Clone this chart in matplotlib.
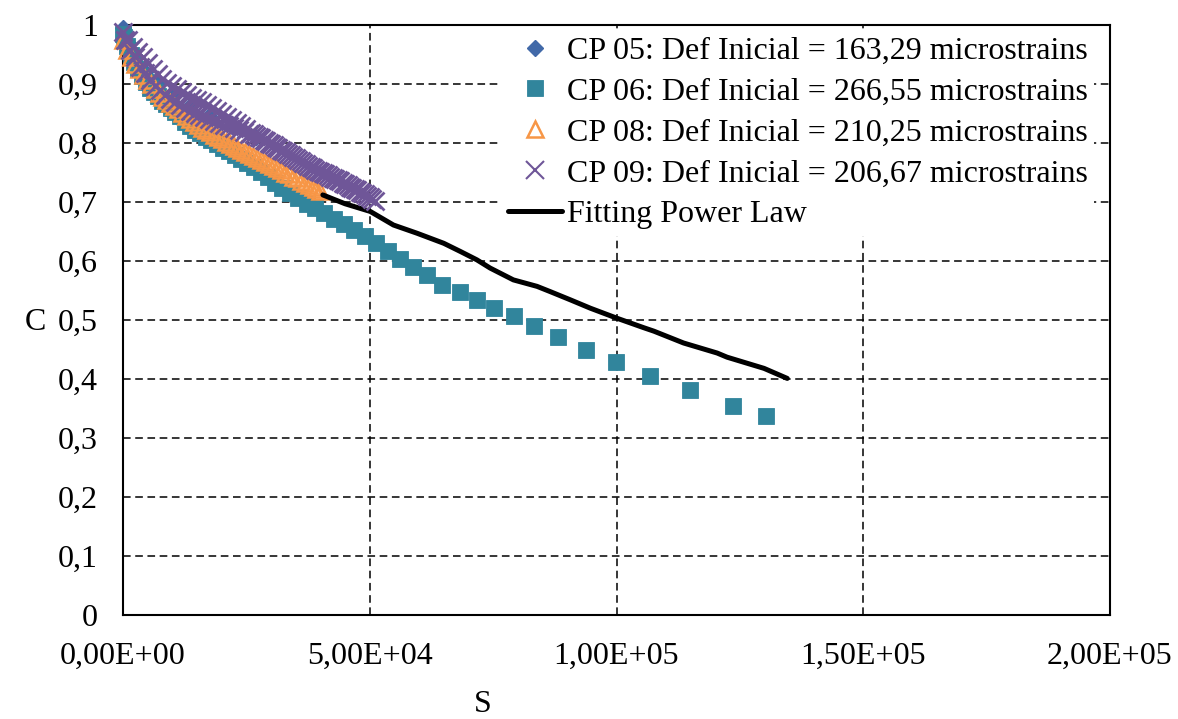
import matplotlib
matplotlib.use("Agg")
import matplotlib.pyplot as plt
from matplotlib.ticker import FixedLocator, FuncFormatter

plt.rcParams['font.family'] = ['Liberation Serif', 'DejaVu Serif']

# Damage characteristic curves: pseudo-stiffness C versus damage S
s_cp05 = [0, 1000, 2500, 4500, 7000, 10000, 13500, 17500, 22000, 27000]
c_cp05 = [0.995, 0.970, 0.945, 0.920, 0.900, 0.880, 0.862, 0.845, 0.828, 0.810]

s_cp06 = [0, 300, 900, 1600, 2300, 3000, 3800, 4600, 5400, 6200, 7000, 7900,
          8800, 9700, 10600, 11600, 12600, 13600, 14600, 15700, 16800, 17900,
          19000, 20200, 21400, 22600, 23900, 25200, 26500, 27900, 29300, 30800,
          32300, 33900, 35500, 37200, 39000, 40800, 42700, 44700, 46800, 49000,
          51300, 53700, 56200, 58800, 61600, 64700, 68200, 71700, 75100, 79200,
          83200, 88100, 93800, 99800, 106800, 114800, 123700, 130200]
c_cp06 = [0.985, 0.980, 0.965, 0.950, 0.937, 0.925, 0.913, 0.903, 0.894, 0.886,
          0.879, 0.872, 0.866, 0.859, 0.852, 0.845, 0.836, 0.829, 0.822, 0.817,
          0.811, 0.805, 0.798, 0.792, 0.786, 0.779, 0.773, 0.766, 0.759, 0.751,
          0.742, 0.733, 0.724, 0.715, 0.706, 0.697, 0.689, 0.681, 0.672, 0.663,
          0.653, 0.642, 0.630, 0.617, 0.603, 0.589, 0.576, 0.560, 0.548, 0.534,
          0.520, 0.507, 0.490, 0.471, 0.449, 0.429, 0.405, 0.381, 0.355, 0.338]

s_cp08 = [0, 800, 1600, 2400, 3200, 4000, 4800, 5600, 6400, 7200, 8000, 8800,
          9600, 10400, 11200, 12000, 12800, 13600, 14400, 15200, 16000, 16800,
          17600, 18400, 19200, 20000, 20800, 21600, 22400, 23200, 24000, 24800,
          25600, 26400, 27200, 28000, 28800, 29600, 30400, 31200, 32000, 32800,
          33600, 34400, 35200, 36000, 36800, 37600, 38400, 39200, 40000]
c_cp08 = [0.975, 0.958, 0.945, 0.934, 0.925, 0.915, 0.907, 0.900, 0.892, 0.885,
          0.878, 0.873, 0.868, 0.862, 0.857, 0.851, 0.845, 0.840, 0.835, 0.831,
          0.826, 0.822, 0.818, 0.814, 0.810, 0.806, 0.802, 0.799, 0.795, 0.792,
          0.788, 0.785, 0.781, 0.778, 0.775, 0.771, 0.768, 0.764, 0.761, 0.757,
          0.754, 0.750, 0.747, 0.743, 0.740, 0.736, 0.733, 0.729, 0.726, 0.722,
          0.719]

s_cp09 = [0, 500, 1000, 1500, 2000, 2500, 3000, 3500, 4000, 4500, 5000, 5500,
          6000, 6500, 7000, 7500, 8000, 8500, 9000, 9500, 10000, 10500, 11000,
          11500, 12000, 12500, 13000, 13500, 14000, 14500, 15000, 15500, 16000,
          16500, 17000, 17500, 18000, 18500, 19000, 19500, 20000, 20500, 21000,
          21500, 22000, 22500, 23000, 23500, 24000, 24500, 25000, 25500, 26000,
          26500, 27000, 27500, 28000, 28500, 29000, 29500, 30000, 30500, 31000,
          31500, 32000, 32500, 33000, 33500, 34000, 34500, 35000, 35500, 36000,
          36500, 37000, 37500, 38000, 38500, 39000, 39500, 40000, 40500, 41000,
          41500, 42000, 42500, 43000, 43500, 44000, 44500, 45000, 45500, 46000,
          46500, 47000, 47500, 48000, 48500, 49000, 49500, 50000, 50500, 51000]
c_cp09 = [0.988, 0.975, 0.975, 0.958, 0.962, 0.945, 0.955, 0.929, 0.945, 0.918,
          0.935, 0.907, 0.925, 0.897, 0.917, 0.889, 0.909, 0.882, 0.902, 0.875,
          0.896, 0.870, 0.891, 0.864, 0.886, 0.859, 0.881, 0.855, 0.877, 0.851,
          0.873, 0.847, 0.869, 0.844, 0.864, 0.841, 0.859, 0.838, 0.855, 0.834,
          0.849, 0.831, 0.844, 0.829, 0.839, 0.825, 0.834, 0.822, 0.829, 0.818,
          0.824, 0.816, 0.817, 0.815, 0.812, 0.810, 0.808, 0.805, 0.803, 0.800,
          0.798, 0.796, 0.793, 0.791, 0.788, 0.786, 0.784, 0.781, 0.779, 0.776,
          0.774, 0.771, 0.769, 0.766, 0.764, 0.761, 0.759, 0.757, 0.755, 0.753,
          0.751, 0.749, 0.747, 0.745, 0.743, 0.741, 0.739, 0.737, 0.735, 0.733,
          0.731, 0.728, 0.726, 0.724, 0.722, 0.720, 0.717, 0.715, 0.713, 0.711,
          0.708, 0.705, 0.702]

s_fit = [40500, 45000, 50100, 54800, 59600, 65000, 68400, 71700, 74400,
         79100, 83900, 86600, 90700, 94700, 100100, 105500, 107600, 113600,
         120400, 122400, 129900, 134600]
c_fit = [0.712, 0.697, 0.684, 0.661, 0.647, 0.630, 0.616, 0.602, 0.588,
         0.568, 0.557, 0.548, 0.534, 0.520, 0.503, 0.487, 0.481, 0.461, 0.444,
         0.437, 0.418, 0.401]

labels = ["CP 05: Def Inicial = 163,29 microstrains",
          "CP 06: Def Inicial = 266,55 microstrains",
          "CP 08: Def Inicial = 210,25 microstrains",
          "CP 09: Def Inicial = 206,67 microstrains",
          "Fitting Power Law"]

x_ticks = [0, 50000, 100000, 150000, 200000]
y_ticks = [0, 0.1, 0.2, 0.3, 0.4, 0.5, 0.6, 0.7, 0.8, 0.9, 1.0]

W, H = 1178, 719
FS = 23
fig = plt.figure(figsize=(W / 100, H / 100), dpi=100)
ax = fig.add_axes([123 / W, 1 - 615 / H, (1110 - 123) / W, (615 - 25) / H])

ax.plot(s_cp05, c_cp05, ls='none', marker='D', ms=8.5, color='#4169A8',
        mec='#4169A8', label=labels[0], clip_on=False, zorder=3)
ax.plot(s_cp06, c_cp06, ls='none', marker='s', ms=12, color='#31859C',
        mec='#31859C', mew=0.6, label=labels[1], clip_on=False, zorder=3)
ax.plot(s_cp08, c_cp08, ls='none', marker='^', ms=12, mfc='none',
        mec='#F79646', mew=1.8, label=labels[2], clip_on=False, zorder=3)
ax.plot(s_fit, c_fit, color='black', lw=3.6, solid_capstyle='round',
        label=labels[4], zorder=3)
ax.plot(s_cp09, c_cp09, ls='none', marker='x', ms=13.5, mec='#6F5698',
        mew=2.0, label=labels[3], clip_on=False, zorder=4)

ax.set_xlim(0, 200000)
ax.set_ylim(0, 1)
ax.xaxis.set_major_locator(FixedLocator(x_ticks))
ax.yaxis.set_major_locator(FixedLocator(y_ticks))


def sci_comma(v, pos):
    return "{:.2E}".format(v).replace('.', ',')


def dec_comma(v, pos):
    if abs(v) < 1e-9:
        return "0"
    if abs(v - 1) < 1e-9:
        return "1"
    return "{:.1f}".format(v).replace('.', ',')


ax.xaxis.set_major_formatter(FuncFormatter(sci_comma))
ax.yaxis.set_major_formatter(FuncFormatter(dec_comma))
ax.tick_params(axis='both', length=0, labelsize=FS)
ax.tick_params(axis='y', pad=18)
ax.tick_params(axis='x', pad=19)

ax.grid(True, color='black', ls=(0, (5, 3)), lw=1.1)
ax.set_axisbelow(True)
for sp in ax.spines.values():
    sp.set_linewidth(1.5)
    sp.set_color('black')

handles, labs = ax.get_legend_handles_labels()
order = [labs.index(l) for l in labels]
leg = ax.legend([handles[i] for i in order], [labs[i] for i in order],
                loc='upper right', bbox_to_anchor=(1094 / W, 1 - 30 / H),
                bbox_transform=fig.transFigure, fontsize=FS,
                frameon=True, fancybox=False, framealpha=1,
                facecolor='white', edgecolor='none', borderpad=0.2,
                labelspacing=0.36, handlelength=1.7, handletextpad=0.15,
                borderaxespad=0)
leg.set_zorder(5)
for h in leg.legend_handles:
    if h.get_marker() == 'x':
        h.set_markeredgewidth(1.5)

fig.text(483 / W, 1 - 705 / H, 'S', ha='center', va='center', fontsize=FS)
fig.text(35 / W, 1 - 322 / H, 'C', ha='center', va='center', fontsize=FS)

fig.savefig('out.png', dpi=100, facecolor='white')
